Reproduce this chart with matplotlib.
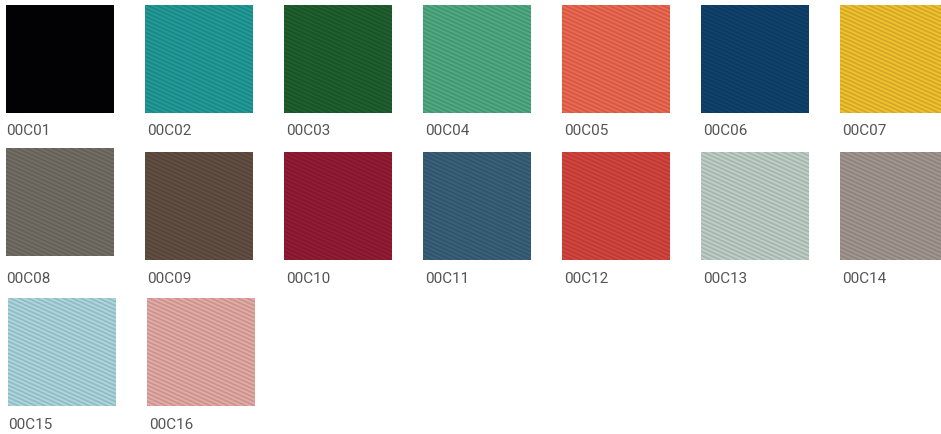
import matplotlib

matplotlib.use("Agg")
import matplotlib.pyplot as plt
import numpy as np
from matplotlib.colors import to_rgb

# swatch codes and their fabric colours, row by row
codes_row1 = ["00C01", "00C02", "00C03", "00C04", "00C05", "00C06", "00C07"]
colors_row1 = ["#020205", "#1f9290", "#1d5a2b", "#4aa07a", "#e0624b", "#0e3f66", "#e2b52a"]

codes_row2 = ["00C08", "00C09", "00C10", "00C11", "00C12", "00C13", "00C14"]
colors_row2 = ["#6c675f", "#5d4a3f", "#8b1a31", "#365b73", "#c8413a", "#b3c3bb", "#998d87"]

codes_row3 = ["00C15", "00C16"]
colors_row3 = ["#a0c9d1", "#d8a09b"]

rows = [
    (codes_row1, colors_row1),
    (codes_row2, colors_row2),
    (codes_row3, colors_row3),
]

# layout in pixels
W, H = 941, 435
SIZE = 108
PITCH = 139
row_tops = [6, 153, 299]
row_lefts = [6, 6, 8]
label_y = [131, 279, 425]


def twill(color, n=SIZE):
    """Diagonal twill texture around a base colour."""
    base = np.array(to_rgb(color))
    yy, xx = np.mgrid[0:n, 0:n]
    wave = np.sin(2 * np.pi * (yy - 0.45 * xx) / 4.0)
    shade = 1.0 + 0.08 * wave
    img = base[None, None, :] * shade[..., None]
    return np.clip(img, 0, 1)


fig = plt.figure(figsize=(W / 100, H / 100), dpi=100)
ax = fig.add_axes([0, 0, 1, 1])
ax.axis("off")

for r, (codes, colors) in enumerate(rows):
    for c, (code, color) in enumerate(zip(codes, colors)):
        left = row_lefts[r] + c * PITCH
        top = row_tops[r] - 4 if (r == 1 and c == 0) else row_tops[r]
        right = min(left + SIZE, W)
        ax.imshow(
            twill(color)[:, : right - left],
            extent=(left, right, top + SIZE, top),
            interpolation="nearest",
            zorder=1,
        )
        ax.text(
            left + (2 if c else 0),
            label_y[r],
            code,
            fontsize=11,
            family="Roboto",
            color="#555555",
            ha="left",
            va="center",
        )

ax.set_xlim(0, W)
ax.set_ylim(H, 0)
fig.savefig("out.png", dpi=100)
